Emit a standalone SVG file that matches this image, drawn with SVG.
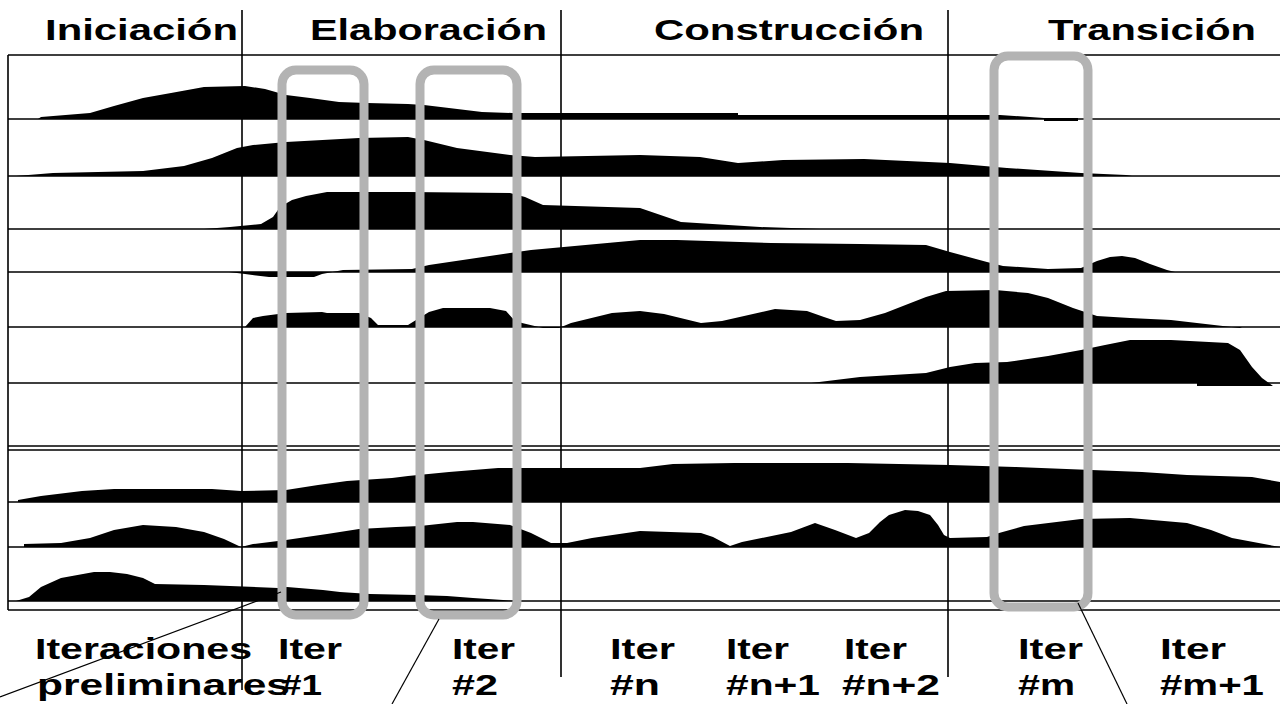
<svg xmlns="http://www.w3.org/2000/svg" width="1280" height="704" viewBox="0 0 1280 704">
<style>
.t{font-family:"Liberation Sans",Arial,sans-serif;font-weight:bold;fill:#000}
.h{font-size:30px}
.b{font-size:30px}
.g{stroke:#000;stroke-width:1.6;fill:none}
.hump{fill:#000;stroke:none}
.it{fill:none;stroke:#b3b3b3;stroke-width:9}
.c{stroke:#000;stroke-width:1.2;fill:none}
</style>
<rect x="0" y="0" width="1280" height="704" fill="#fff"/>
<g id="headers">
<text class="t h" x="45" y="40" textLength="193" lengthAdjust="spacingAndGlyphs">Iniciación</text>
<text class="t h" x="310" y="40" textLength="237" lengthAdjust="spacingAndGlyphs">Elaboración</text>
<text class="t h" x="654" y="40" textLength="270" lengthAdjust="spacingAndGlyphs">Construcción</text>
<text class="t h" x="1048" y="40" textLength="208" lengthAdjust="spacingAndGlyphs">Transición</text>
</g>
<g id="humps">
<path id="row1" class="hump" d="M38,119 L41,117 L90,113 L114,106 L143,98 L171,93 L204,87 L245,86 L265,89 L286,95 L310,98 L339,102 L367,103 L408,104 L424,105 L449,108 L482,112 L512,113 L738,113 L738,115 L1000,115 L1044,118 L1078,118 L1078,121 L1044,121 L1044,119 Z"/>
<path id="row2" class="hump" d="M16,176 L53,173 L143,171 L184,166 L212,158 L237,148 L253,145 L286,142 L359,138 L408,137 L424,140 L457,148 L510,155 L535,157 L640,155 L700,157 L738,163 L783,160 L864,159 L950,163 L1007,168 L1081,173 L1126,175 L1132,176 Z"/>
<path id="row3" class="hump" d="M204,229 L230,227 L261,224 L273,217 L280,207 L292,200 L306,196 L327,192 L408,192 L510,193 L525,197 L543,205 L640,208 L681,222 L760,227 L820,229 Z"/>
<path id="row4" class="hump" d="M229,272 L245,274 L269,277 L314,277 L322,274 L343,270 L412,269 L429,265 L510,253 L531,250 L640,240 L677,240 L771,243 L860,244 L926,245 L950,252 L987,262 L1003,266 L1048,269 L1081,268 L1097,261 L1110,257 L1122,256 L1135,258 L1150,264 L1167,270 L1175,272 Z"/>
<path id="row5" class="hump" d="M245,327 L253,318 L263,316 L286,313 L322,312 L327,313 L359,313 L371,318 L378,325 L408,325 L416,320 L429,312 L443,308 L490,308 L506,311 L514,320 L522,323 L543,328 L559,328 L571,323 L612,313 L640,311 L664,314 L701,323 L722,321 L775,309 L807,311 L824,317 L836,321 L860,320 L885,313 L926,297 L946,291 L995,290 L1028,293 L1048,298 L1073,308 L1097,316 L1130,318 L1171,320 L1240,328 L1242,327 Z"/>
<path id="row6" class="hump" d="M811,383 L860,377 L926,373 L950,367 L975,363 L1007,362 L1048,356 L1081,350 L1105,345 L1130,340 L1171,340 L1228,343 L1240,350 L1252,367 L1262,378 L1273,386 L1197,386 L1197,383 Z"/>
<path id="row8" class="hump" d="M18,502 L18,500 L41,496 L82,491 L114,489 L212,489 L241,491 L286,490 L318,485 L347,481 L392,478 L408,476 L449,472 L498,468 L640,468 L673,464 L734,463 L848,463 L950,465 L1015,467 L1142,472 L1187,475 L1252,477 L1280,482 L1280,502 Z"/>
<path id="row9" class="hump" d="M24,547 L24,544 L61,543 L90,538 L114,530 L143,525 L176,527 L204,532 L224,539 L241,547 L253,544 L286,540 L327,534 L359,529 L396,527 L420,526 L457,522 L473,522 L510,525 L531,533 L551,543 L567,543 L592,538 L640,531 L701,533 L713,537 L730,546 L742,542 L791,532 L815,523 L835,530 L856,538 L869,533 L880,522 L889,515 L905,510 L918,511 L930,515 L938,525 L944,535 L950,538 L987,537 L999,533 L1024,526 L1081,519 L1130,518 L1187,523 L1211,530 L1232,538 L1280,547 Z"/>
<path id="row10" class="hump" d="M16,601 L29,597 L41,587 L61,578 L94,572 L110,572 L127,574 L143,578 L155,584 L204,585 L278,588 L287,587 L323,590 L340,592 L370,594 L417,595 L447,596 L473,598 L503,600 L514,601 Z"/>
</g>
<g id="grid">
<path class="g" d="M8,55 H1280 M8,119 H1280 M8,176 H1280 M8,229 H1280 M8,272 H1280 M8,327 H1280 M8,383 H1280 M8,446 H1280 M8,450 H1280 M8,502 H1280 M8,547 H1280 M8,601 H1280 M8,610 H1280"/>
<path class="g" d="M8,55 V610 M242,10 V690 M561,10 V677 M948,10 V677"/>
</g>
<g id="iterations">
<rect id="iter1" class="it" x="282" y="70" width="82" height="545" rx="14"/>
<rect id="iter2" class="it" x="420" y="70" width="97" height="545" rx="14"/>
<rect id="iterm" class="it" x="994" y="56" width="94" height="551" rx="14"/>
</g>
<g id="labels">
<text class="t b" x="35" y="659" textLength="217" lengthAdjust="spacingAndGlyphs">Iteraciones</text>
<text class="t b" x="37" y="695" textLength="253" lengthAdjust="spacingAndGlyphs">preliminares</text>
<text class="t b" x="278" y="659" textLength="64" lengthAdjust="spacingAndGlyphs">Iter</text>
<text class="t b" x="281" y="695" textLength="41" lengthAdjust="spacingAndGlyphs">#1</text>
<text class="t b" x="452" y="659" textLength="63" lengthAdjust="spacingAndGlyphs">Iter</text>
<text class="t b" x="452" y="695" textLength="46" lengthAdjust="spacingAndGlyphs">#2</text>
<text class="t b" x="610" y="659" textLength="65" lengthAdjust="spacingAndGlyphs">Iter</text>
<text class="t b" x="610" y="695" textLength="50" lengthAdjust="spacingAndGlyphs">#n</text>
<text class="t b" x="726" y="659" textLength="63" lengthAdjust="spacingAndGlyphs">Iter</text>
<text class="t b" x="726" y="695" textLength="94" lengthAdjust="spacingAndGlyphs">#n+1</text>
<text class="t b" x="844" y="659" textLength="63" lengthAdjust="spacingAndGlyphs">Iter</text>
<text class="t b" x="842" y="695" textLength="98" lengthAdjust="spacingAndGlyphs">#n+2</text>
<text class="t b" x="1018" y="659" textLength="65" lengthAdjust="spacingAndGlyphs">Iter</text>
<text class="t b" x="1018" y="695" textLength="57" lengthAdjust="spacingAndGlyphs">#m</text>
<text class="t b" x="1160" y="659" textLength="66" lengthAdjust="spacingAndGlyphs">Iter</text>
<text class="t b" x="1160" y="695" textLength="104" lengthAdjust="spacingAndGlyphs">#m+1</text>
</g>
<g id="connectors">
<line class="c" x1="0" y1="697" x2="281" y2="592"/>
<line class="c" x1="392" y1="704" x2="439" y2="619"/>
<line class="c" x1="1078" y1="603" x2="1127" y2="704"/>
</g>
</svg>
